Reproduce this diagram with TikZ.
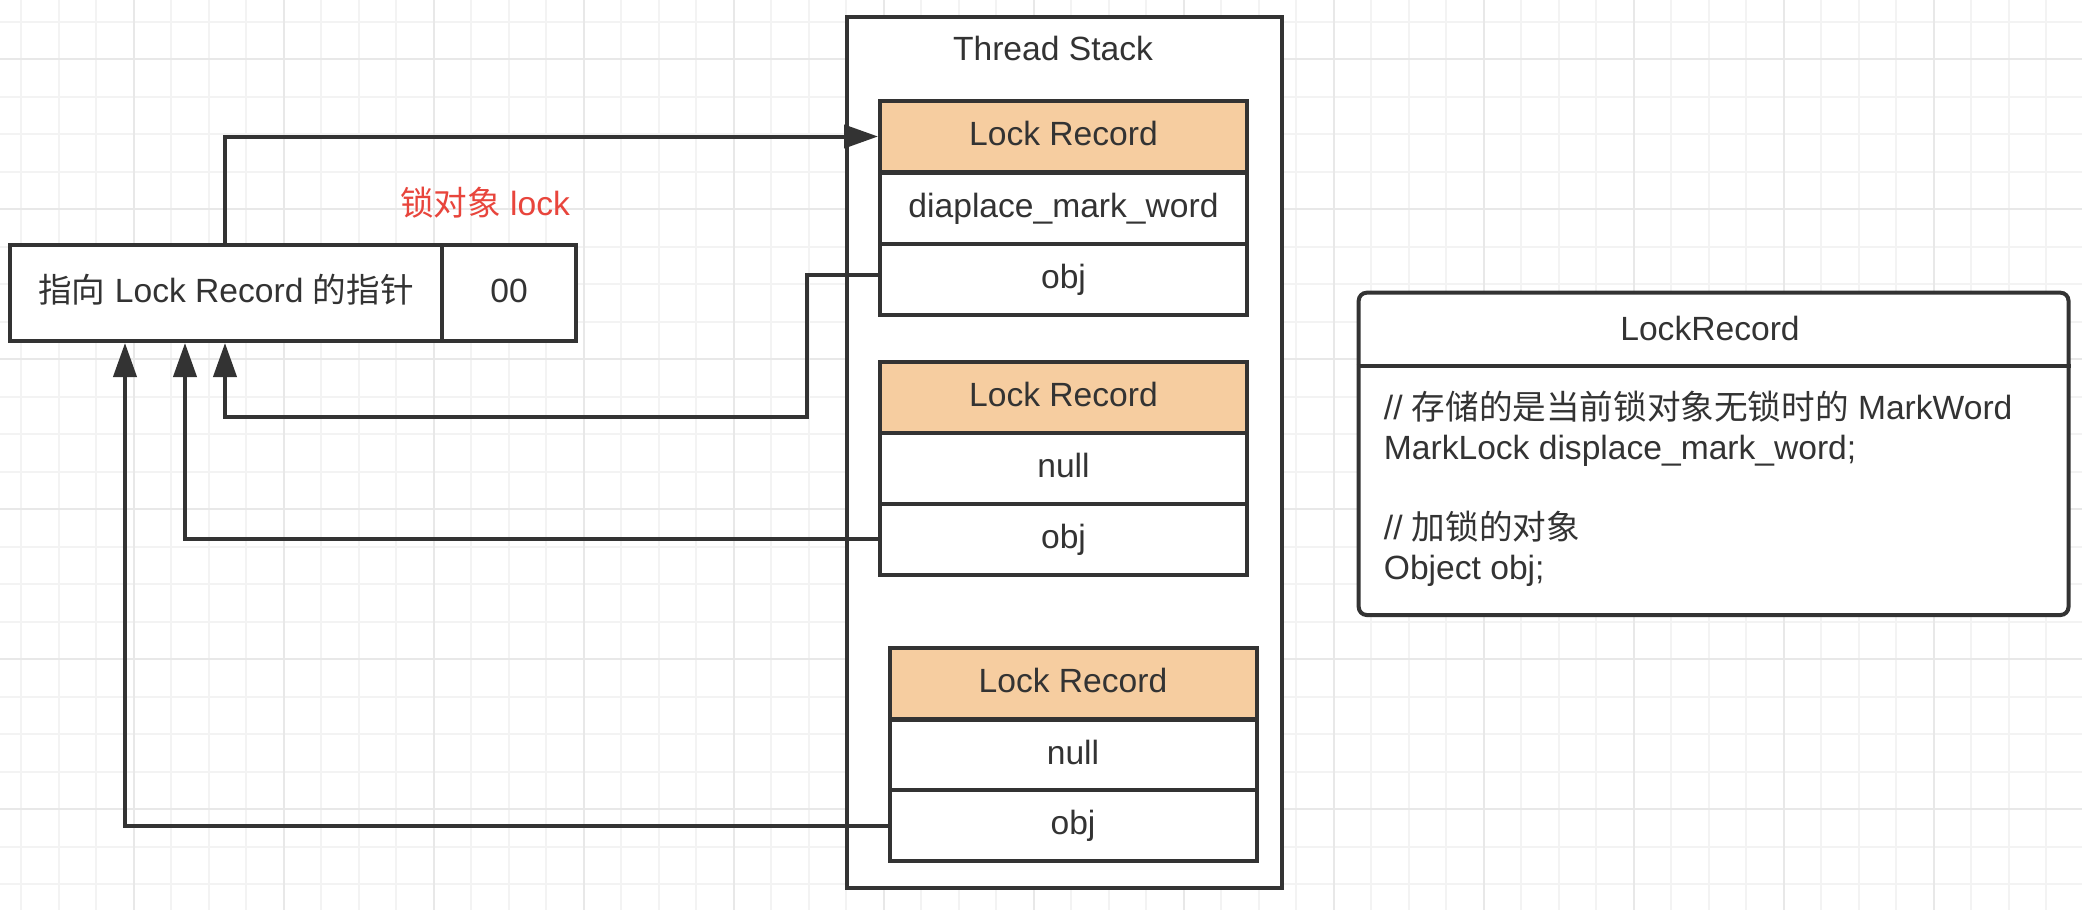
\documentclass[tikz,border=0pt]{standalone}
\usepackage{fontspec}
\setmainfont{Liberation Sans}
\newfontfamily\cjk{Noto Sans CJK SC}
\usetikzlibrary{arrows.meta}
\definecolor{ink}{HTML}{333333}
\definecolor{hdr}{HTML}{F6CDA0}
\definecolor{alert}{HTML}{E8453C}
\definecolor{gridminor}{HTML}{F3F3F3}
\definecolor{gridmajor}{HTML}{E8E8E8}
\begin{document}
\begin{tikzpicture}[x=0.5pt,y=-0.5pt,
  txt/.style={font=\fontsize{16.8pt}{20pt}\selectfont, text=ink, text height=13.2pt, text depth=4pt},
  cell/.style={txt, draw=ink, line width=2pt, fill=white, inner sep=0pt,
               minimum width=183.5pt, minimum height=35.5pt},
  hdrcell/.style={cell, fill=hdr},
  boxline/.style={draw=ink, line width=2pt},
  conn/.style={draw=ink, line width=2pt},
  arr/.style={conn, -{Triangle[length=17pt,width=11.5pt]}},
  bodyline/.style={txt, anchor=base west, inner sep=0pt, text height=, text depth=}]

% page and background grid
\fill[white] (0,0) rectangle (2082,910);
\useasboundingbox (0,0) rectangle (2082,910);
\foreach \i in {0,...,54} \draw[gridminor, line width=1pt] ({21+37.5*\i},0) -- ({21+37.5*\i},910);
\foreach \j in {0,...,23} \draw[gridminor, line width=1pt] (0,{21.7+37.5*\j}) -- (2082,{21.7+37.5*\j});
\foreach \i in {0,...,12} \draw[gridmajor, line width=1pt] ({133.5+150*\i},0) -- ({133.5+150*\i},910);
\foreach \j in {0,...,5} \draw[gridmajor, line width=1pt] (0,{59.3+150*\j}) -- (2082,{59.3+150*\j});

% thread stack container
\node[boxline, fill=white, inner sep=0pt, minimum width=217.5pt, minimum height=435.8pt]
  (stack) at (1064.2,452.5) {};
\node[txt] (stacklbl) at (1053,51) {Thread Stack};

% lock records on the stack
\node[hdrcell] (lr1h) at (1063.5,136.5) {Lock Record};
\node[cell]    (lr1m) at (1063.5,208)   {diaplace\_mark\_word};
\node[cell]    (lr1o) at (1063.5,279.5) {obj};

\node[hdrcell] (lr2h) at (1063.5,397.5) {Lock Record};
\node[cell]    (lr2n) at (1063.5,468)   {null};
\node[cell]    (lr2o) at (1063.5,539)   {obj};

\node[hdrcell] (lr3h) at (1073,683.5) {Lock Record};
\node[cell]    (lr3n) at (1073,755)   {null};
\node[cell]    (lr3o) at (1073,825.5) {obj};

% object header of the lock object
\node[cell, minimum width=216pt, minimum height=48pt] (ptr) at (226,293)
  {{\cjk 指向} Lock Record {\cjk 的指针}};
\node[cell, minimum width=67pt, minimum height=48pt] (bits) at (509,293) {00};
\node[txt, text=alert] (locklbl) at (485,206) {{\cjk 锁对象} lock};

% LockRecord class description
\node[boxline, rounded corners=4pt, fill=white, inner sep=0pt, anchor=north west,
      minimum width=354.9pt, minimum height=161.15pt] (cls) at (1356.7,290.7) {};
\coordinate (clssep) at (0,366);
\draw[boxline] (cls.west |- clssep) -- (cls.east |- clssep);
\node[txt] (clstitle) at (1710,331.5) {LockRecord};
\node[bodyline] (b1) at (1383.5,419) {// {\cjk 存储的是当前锁对象无锁时的} MarkWord};
\node[bodyline] (b2) at (1383.5,459) {MarkLock displace\_mark\_word;};
\node[bodyline] (b3) at (1383.5,539) {// {\cjk 加锁的对象}};
\node[bodyline] (b4) at (1383.5,579) {Object obj;};

% pointers
\draw[arr] ([xshift=108.5pt]ptr.north west) |- (lr1h.west);
\coordinate (bend) at (807,417);
\draw[arr] ([yshift=2.25pt]lr1o.west) -| (bend) -| ([xshift=108.5pt]ptr.south west);
\draw[arr] (lr2o.west) -| ([xshift=88.5pt]ptr.south west);
\draw[arr] (lr3o.west) -| ([xshift=58.5pt]ptr.south west);
\end{tikzpicture}
\end{document}
